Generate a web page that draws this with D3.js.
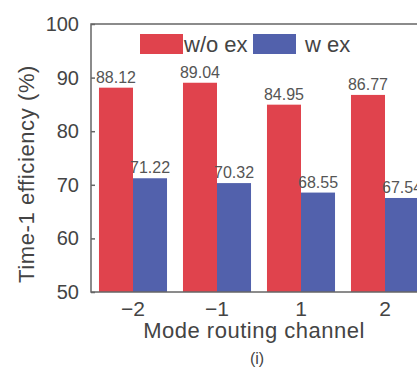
<!DOCTYPE html>
<html><head><meta charset="utf-8">
<script src="https://cdn.jsdelivr.net/npm/d3@7"></script>
<style>body{margin:0;background:#fff;overflow:hidden}svg{display:block}text{font-family:"Liberation Sans",Arial,sans-serif}</style>
</head><body>
<script>
const categories = ["\u22122", "\u22121", "1", "2"];
const seriesNames = ["w/o ex", "w ex"];
const withoutEx = [88.12, 89.04, 84.95, 86.77];
const withEx = [71.22, 70.32, 68.55, 67.54];
const yTicks = [50, 60, 70, 80, 90, 100];
const colors = ["#e0434d", "#5261ac"];

(function () {
const W = 417, H = 367;
const mLeft = 91, mRight = 427, mTop = 24, mBottom = 292;
const svg = d3.select("body").append("svg").attr("width", W).attr("height", H);

const x = d3.scaleBand().domain(categories).range([mLeft, mRight]).paddingInner(0.19).paddingOuter(0.095);
const xs = d3.scaleBand().domain(seriesNames).range([0, x.bandwidth()]);
const y = d3.scaleLinear().domain([50, 100]).range([mBottom, mTop]);

const data = categories.map((c, i) => ({c, vals: [withoutEx[i], withEx[i]]}));
const g = svg.append("g");
data.forEach(d => {
  d.vals.forEach((v, j) => {
    g.append("rect")
      .attr("x", x(d.c) + xs(seriesNames[j]))
      .attr("y", y(v))
      .attr("width", xs.bandwidth())
      .attr("height", y(50) - y(v))
      .attr("fill", colors[j]);
    g.append("text")
      .attr("x", x(d.c) + xs(seriesNames[j]) + xs.bandwidth() / 2)
      .attr("y", y(v) - 5)
      .attr("text-anchor", "middle")
      .attr("font-size", 16)
      .attr("fill", "#555")
      .text(v.toFixed(2));
  });
});

const axisColor = "#666";
svg.append("rect").attr("x", mLeft).attr("y", mTop).attr("width", mRight - mLeft).attr("height", mBottom - mTop)
  .attr("fill", "none").attr("stroke", axisColor).attr("stroke-width", 1.5);

const yAxis = d3.axisLeft(y).tickValues(yTicks).tickSize(-4).tickPadding(12);
const ya = svg.append("g").attr("transform", `translate(${mLeft},0)`).call(yAxis);
ya.select(".domain").remove();
ya.selectAll("line").attr("stroke", axisColor).attr("stroke-width", 1.5);
ya.selectAll("text").attr("font-size", 20).attr("fill", "#444").attr("font-family", '"Liberation Sans",Arial,sans-serif');

const xAxis = d3.axisBottom(x).tickSize(0).tickPadding(9);
const xa = svg.append("g").attr("transform", `translate(0,${mBottom})`).call(xAxis);
xa.select(".domain").remove();
xa.selectAll("text").attr("font-size", 21).attr("fill", "#444").attr("font-family", '"Liberation Sans",Arial,sans-serif');

svg.append("text").attr("transform", `translate(34,174) rotate(-90)`)
  .attr("text-anchor", "middle").attr("font-size", 22).attr("letter-spacing", 0.6).attr("fill", "#444").text("Time-1 efficiency (%)");
svg.append("text").attr("x", 254).attr("y", 338).attr("text-anchor", "middle")
  .attr("font-size", 22).attr("letter-spacing", 0.5).attr("fill", "#444").text("Mode routing channel");
svg.append("text").attr("x", 257).attr("y", 364).attr("text-anchor", "middle")
  .attr("font-size", 16).attr("fill", "#444").text("(i)");

const legX = [140, 253];
seriesNames.forEach((s, j) => {
  svg.append("rect").attr("x", legX[j]).attr("y", 34).attr("width", 43).attr("height", 20).attr("fill", colors[j]);
  svg.append("text").attr("x", legX[j] + 44 + (j === 1 ? 8 : 0)).attr("y", 52).attr("font-size", 22)
    .attr("fill", "#444").text(s);
});
})();
</script>
</body></html>
